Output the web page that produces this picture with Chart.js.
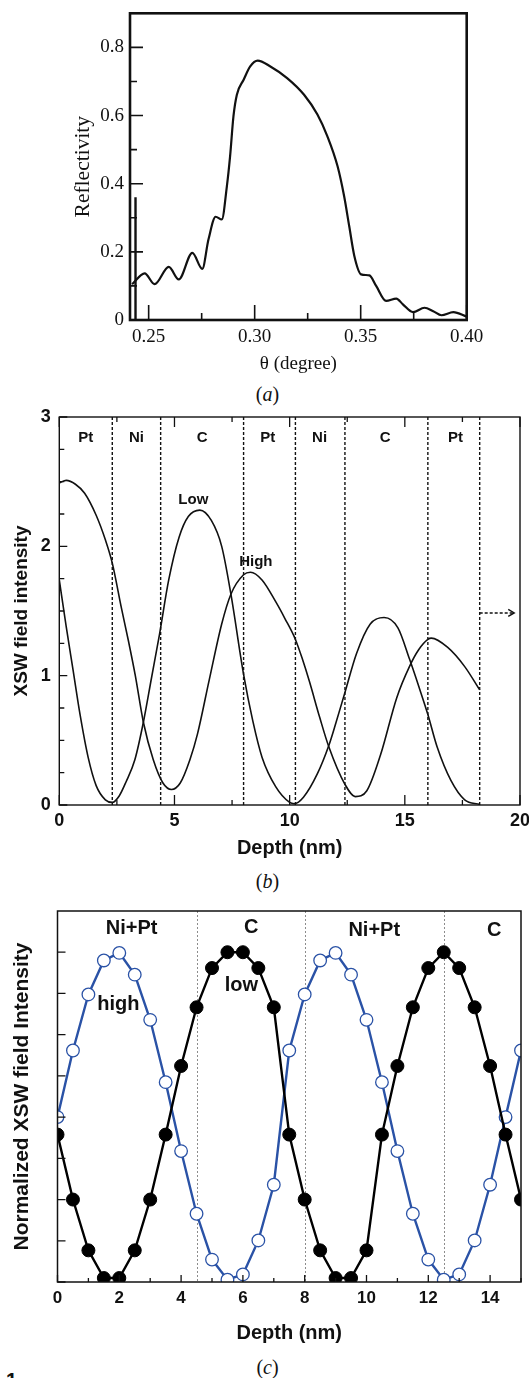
<!DOCTYPE html>
<html>
<head>
<meta charset="utf-8">
<script src="https://cdn.jsdelivr.net/npm/chart.js@4.4.1/dist/chart.umd.min.js"></script>
<style>
  html, body { margin: 0; padding: 0; background: #fff; }
  body { position: relative; width: 529px; height: 1378px; overflow: hidden; }
  canvas { position: absolute; left: 0; }
  .cap { position: absolute; left: 3px; width: 529px; text-align: center;
         font-family: "Liberation Serif", serif; font-size: 20px; line-height: 20px; color: #111; }
  .stray { position: absolute; left: 6px; top: 1369px; font: bold 20px "Liberation Sans", sans-serif; color: #111; }
</style>
</head>
<body>
<canvas id="reflect" width="529" height="380" style="top:0px"></canvas>
<div class="cap" style="top:384px">(<i>a</i>)</div>
<canvas id="xsw" width="529" height="470" style="top:400px"></canvas>
<div class="cap" style="top:871px">(<i>b</i>)</div>
<canvas id="norm" width="529" height="455" style="top:895px"></canvas>
<div class="cap" style="top:1357px">(<i>c</i>)</div>
<div class="stray">1</div>
<script>
// (a) reflectivity curve
const thetaDeg = [0.2422, 0.2481, 0.2528, 0.2595, 0.2642, 0.2706, 0.2753, 0.2782, 0.2816, 0.2845,
  0.2869, 0.2884, 0.2900, 0.2916, 0.2948, 0.2979, 0.3014, 0.3074, 0.3153, 0.3233,
  0.3296, 0.3343, 0.3391, 0.3422, 0.3446, 0.3470, 0.3502, 0.3541, 0.3573, 0.3620,
  0.3668, 0.3699, 0.3747, 0.3801, 0.3842, 0.3881, 0.3937, 0.4000];
const reflectivity = [0.105, 0.137, 0.105, 0.156, 0.119, 0.197, 0.150, 0.236, 0.303, 0.295,
  0.393, 0.480, 0.598, 0.661, 0.705, 0.744, 0.761, 0.744, 0.710, 0.661,
  0.603, 0.539, 0.451, 0.363, 0.275, 0.188, 0.134, 0.131, 0.100, 0.056,
  0.063, 0.046, 0.023, 0.036, 0.026, 0.014, 0.023, 0.010];
const edgeTheta = [0.2438, 0.2438];
const edgeRefl = [0, 0.36];
const thetaTicks = [0.25, 0.275, 0.30, 0.325, 0.35, 0.375, 0.40];
const thetaLabels = ['0.25', '', '0.30', '', '0.35', '', '0.40'];
const reflTicks = [0, 0.1, 0.2, 0.3, 0.4, 0.5, 0.6, 0.7, 0.8];
const reflLabels = ['0', '', '0.2', '', '0.4', '', '0.6', '', '0.8'];

// (b) XSW field intensity vs depth
const depthLow = [0, 0.3, 0.6, 0.9, 1.25, 1.6, 2.0, 2.3, 2.6, 2.9, 3.28, 3.65, 4.0, 4.35, 4.75,
  5.2, 5.6, 6.1, 6.6, 7.05, 7.45, 8.0, 8.4, 8.8, 9.4, 10.0, 10.2, 10.6, 11.2, 11.7,
  12.0, 12.4, 12.9, 13.5, 14.1, 14.7, 15.2, 15.6, 16.0, 16.4, 17.0, 17.6, 18.25];
const fieldLow = [1.74, 1.38, 1.04, 0.70, 0.37, 0.15, 0.04, 0.02, 0.07, 0.18, 0.35, 0.64, 0.98, 1.32, 1.74,
  2.07, 2.23, 2.28, 2.20, 2.00, 1.63, 1.01, 0.65, 0.37, 0.14, 0.02, 0.01, 0.06, 0.24, 0.46,
  0.63, 0.87, 1.17, 1.40, 1.45, 1.37, 1.13, 0.92, 0.70, 0.45, 0.19, 0.04, 0.005];
const depthHigh = [0, 0.3, 0.7, 1.1, 1.6, 2.0, 2.3, 2.7, 3.0, 3.3, 3.65, 4.08, 4.5, 4.87, 5.25,
  5.67, 6.0, 6.5, 7.05, 7.45, 8.0, 8.3, 8.8, 9.4, 9.8, 10.25, 10.55, 10.85, 11.3, 11.7, 12.4,
  12.85, 13.35, 13.95, 14.65, 15.2, 15.6, 16.0, 16.15, 16.85, 17.6, 18.25];
const fieldHigh = [2.49, 2.51, 2.48, 2.41, 2.24, 2.05, 1.87, 1.52, 1.27, 1.00, 0.64, 0.35, 0.17, 0.12, 0.17,
  0.35, 0.55, 0.96, 1.40, 1.63, 1.78, 1.80, 1.74, 1.57, 1.44, 1.28, 1.13, 0.96, 0.68, 0.45, 0.16,
  0.065, 0.11, 0.39, 0.83, 1.07, 1.20, 1.28, 1.29, 1.22, 1.07, 0.89];
const layerEdges = [2.3, 4.4, 8.0, 10.25, 12.4, 16.0, 18.25];
const layerNames = ['Pt', 'Ni', 'C', 'Pt', 'Ni', 'C', 'Pt'];
const layerMids = [1.15, 3.35, 6.2, 9.05, 11.3, 14.15, 17.2];
const depthTicksB = [0, 2.5, 5, 7.5, 10, 12.5, 15, 17.5, 20];
const depthLabelsB = ['0', '', '5', '', '10', '', '15', '', '20'];
const fieldTicks = [0, 0.25, 0.5, 0.75, 1, 1.25, 1.5, 1.75, 2, 2.25, 2.5, 2.75, 3];
const fieldLabels = ['0', '', '', '', '1', '', '', '', '2', '', '', '', '3'];

// (c) normalized XSW field intensity
const depthC = [0, 0.5, 1, 1.5, 2, 2.5, 3, 3.5, 4, 4.5, 5, 5.5, 6, 6.5, 7, 7.5,
  8, 8.5, 9, 9.5, 10, 10.5, 11, 11.5, 12, 12.5, 13, 13.5, 14, 14.5, 15];
const lowC = [0.447, 0.25, 0.096, 0.012, 0.012, 0.096, 0.25, 0.447, 0.655, 0.833, 0.952, 1.0, 1.0, 0.952, 0.833, 0.447,
  0.25, 0.096, 0.012, 0.012, 0.096, 0.447, 0.655, 0.833, 0.952, 1.0, 0.952, 0.833, 0.655, 0.447, 0.25];
const highC = [0.5, 0.702, 0.872, 0.975, 0.998, 0.932, 0.795, 0.606, 0.397, 0.207, 0.068, 0.007, 0.023, 0.126, 0.295, 0.702,
  0.872, 0.975, 0.998, 0.932, 0.795, 0.606, 0.397, 0.207, 0.068, 0.007, 0.023, 0.126, 0.295, 0.5, 0.702];
const zoneEdges = [4.5, 8.0, 12.5];
const zoneNames = ['Ni+Pt', 'C', 'Ni+Pt', 'C'];
const zoneMids = [2.4, 6.27, 10.25, 14.13];
const zoneLevels = [1.071, 1.076, 1.066, 1.066];
const depthTicksC = [0, 1, 2, 3, 4, 5, 6, 7, 8, 9, 10, 11, 12, 13, 14, 15];
const depthLabelsC = ['0', '', '2', '', '4', '', '6', '', '8', '', '10', '', '12', '', '14', ''];
const normTicks = [0, 0.125, 0.25, 0.375, 0.5, 0.625, 0.75, 0.875, 1];

const pts = (xs, ys) => xs.map((x, i) => ({ x: x, y: ys[i] }));
const SERIF = '"Liberation Serif", "Times New Roman", serif';
const SANS = '"Liberation Sans", Arial, sans-serif';

// frame + inward tick marks
function framePlugin(cfg) {
  return {
    id: 'frame',
    afterDatasetsDraw(chart) {
      const { ctx, chartArea: a, scales: { x, y } } = chart;
      ctx.save();
      ctx.strokeStyle = cfg.color;
      ctx.lineWidth = cfg.tickWidth;
      ctx.beginPath();
      x.ticks.forEach(t => {
        const px = x.getPixelForValue(t.value);
        const len = t.label !== '' ? cfg.xMajor : cfg.xMinor;
        ctx.moveTo(px, a.bottom);
        ctx.lineTo(px, a.bottom - len);
        if (cfg.mirrorTop) {
          ctx.moveTo(px, a.top);
          ctx.lineTo(px, a.top + len);
        }
      });
      y.ticks.forEach(t => {
        const py = y.getPixelForValue(t.value);
        const len = t.label !== '' ? cfg.yMajor : cfg.yMinor;
        ctx.moveTo(a.left, py);
        ctx.lineTo(a.left + len, py);
      });
      ctx.stroke();
      ctx.lineWidth = cfg.borderWidth;
      ctx.strokeRect(a.left, a.top, a.right - a.left, a.bottom - a.top);
      ctx.restore();
    }
  };
}

function axis(opts) {
  return {
    type: 'linear',
    min: opts.min,
    max: opts.max,
    afterBuildTicks: s => { s.ticks = opts.ticks.map(v => ({ value: v })); },
    afterFit: s => {
      if (opts.width !== undefined) s.width = opts.width;
      if (opts.height !== undefined) s.height = opts.height;
      s.paddingLeft = 0; s.paddingRight = 0; s.paddingTop = 0; s.paddingBottom = 0;
    },
    grid: { display: false, drawTicks: false },
    border: { display: false },
    ticks: {
      display: opts.labels !== null,
      callback: (v, i) => opts.labels ? opts.labels[i] : '',
      font: opts.tickFont,
      color: '#111',
      padding: opts.tickPad,
      maxRotation: 0,
      autoSkip: false
    },
    title: {
      display: true,
      text: opts.title,
      font: opts.titleFont,
      color: '#111',
      padding: opts.titlePad
    }
  };
}

// ---------- (a) ----------
new Chart(document.getElementById('reflect'), {
  type: 'line',
  data: {
    datasets: [
      { data: pts(thetaDeg, reflectivity), borderColor: '#111', borderWidth: 2.2,
        pointRadius: 0, cubicInterpolationMode: 'monotone' },
      { data: pts(edgeTheta, edgeRefl), borderColor: '#111', borderWidth: 2.4, pointRadius: 0 }
    ]
  },
  options: {
    responsive: false,
    animation: false,
    layout: { padding: { left: 0, top: 13.3, right: 62.3, bottom: 0 } },
    plugins: { legend: { display: false }, tooltip: { enabled: false } },
    scales: {
      x: axis({ min: 0.2412, max: 0.40, ticks: thetaTicks, labels: thetaLabels, height: 60,
        tickFont: { family: SERIF, size: 19 }, tickPad: 5.3, title: 'θ (degree)',
        titleFont: { family: SERIF, size: 19 }, titlePad: { top: 0, bottom: 4.6 } }),
      y: axis({ min: 0, max: 0.9, ticks: reflTicks, labels: reflLabels, width: 130,
        tickFont: { family: SERIF, size: 19 }, tickPad: 6, title: 'Reflectivity',
        titleFont: { family: SERIF, size: 21.5 }, titlePad: { top: 70.1, bottom: 0 } })
    }
  },
  plugins: [framePlugin({ color: '#111', tickWidth: 1.6, borderWidth: 2.6,
    xMajor: 15, xMinor: 7, yMajor: 13, yMinor: 7, mirrorTop: false })]
});

// ---------- (b) ----------
const layersB = {
  id: 'layersB',
  beforeDatasetsDraw(chart) {
    const { ctx, chartArea: a, scales: { x } } = chart;
    ctx.save();
    ctx.strokeStyle = '#111';
    ctx.lineWidth = 1.4;
    ctx.setLineDash([3, 2]);
    ctx.beginPath();
    layerEdges.forEach(d => {
      const px = x.getPixelForValue(d);
      ctx.moveTo(px, a.top);
      ctx.lineTo(px, a.bottom);
    });
    ctx.stroke();
    ctx.restore();
  },
  afterDatasetsDraw(chart) {
    const { ctx, scales: { x, y } } = chart;
    ctx.save();
    ctx.fillStyle = '#111';
    ctx.textAlign = 'center';
    ctx.textBaseline = 'middle';
    ctx.font = 'bold 15px ' + SANS;
    layerNames.forEach((n, i) => ctx.fillText(n, x.getPixelForValue(layerMids[i]), y.getPixelForValue(2.836)));
    ctx.fillText('Low', x.getPixelForValue(5.82), y.getPixelForValue(2.36));
    ctx.fillText('High', x.getPixelForValue(8.53), y.getPixelForValue(1.88));
    // dashed arrow pointing to deeper layers
    const x0 = x.getPixelForValue(18.25), x1 = x.getPixelForValue(19.75), py = y.getPixelForValue(1.485);
    ctx.strokeStyle = '#111';
    ctx.lineWidth = 1.4;
    ctx.setLineDash([3, 2]);
    ctx.beginPath();
    ctx.moveTo(x0, py); ctx.lineTo(x1, py);
    ctx.stroke();
    ctx.setLineDash([]);
    ctx.beginPath();
    ctx.moveTo(x1 - 6, py - 3.5); ctx.lineTo(x1, py); ctx.lineTo(x1 - 6, py + 3.5);
    ctx.stroke();
    ctx.restore();
  }
};

new Chart(document.getElementById('xsw'), {
  type: 'line',
  data: {
    datasets: [
      { label: 'Low', data: pts(depthLow, fieldLow), borderColor: '#111', borderWidth: 1.6,
        pointRadius: 0, cubicInterpolationMode: 'monotone' },
      { label: 'High', data: pts(depthHigh, fieldHigh), borderColor: '#111', borderWidth: 1.6,
        pointRadius: 0, cubicInterpolationMode: 'monotone' }
    ]
  },
  options: {
    responsive: false,
    animation: false,
    layout: { padding: { left: 0, top: 17, right: 9, bottom: 0 } },
    plugins: { legend: { display: false }, tooltip: { enabled: false } },
    scales: {
      x: axis({ min: 0, max: 20, ticks: depthTicksB, labels: depthLabelsB, height: 65,
        tickFont: { family: SANS, size: 18, weight: 'bold' }, tickPad: 5.2, title: 'Depth (nm)',
        titleFont: { family: SANS, size: 20, weight: 'bold' }, titlePad: { top: 0, bottom: 10 } }),
      y: axis({ min: 0, max: 3, ticks: fieldTicks, labels: fieldLabels, width: 59.3,
        tickFont: { family: SANS, size: 18, weight: 'bold' }, tickPad: 8.6, title: 'XSW field intensity',
        titleFont: { family: SANS, size: 19, weight: 'bold' }, titlePad: { top: 10.6, bottom: 0 } })
    }
  },
  plugins: [layersB, framePlugin({ color: '#111', tickWidth: 1.3, borderWidth: 1.4,
    xMajor: 10, xMinor: 5, yMajor: 8, yMinor: 5, mirrorTop: true })]
});

// ---------- (c) ----------
const zonesC = {
  id: 'zonesC',
  beforeDatasetsDraw(chart) {
    const { ctx, chartArea: a, scales: { x } } = chart;
    ctx.save();
    ctx.strokeStyle = '#8c8c8c';
    ctx.lineWidth = 1;
    ctx.setLineDash([2, 2]);
    ctx.beginPath();
    zoneEdges.forEach(d => {
      const px = Math.round(x.getPixelForValue(d)) + 0.5;
      ctx.moveTo(px, a.top);
      ctx.lineTo(px, a.bottom);
    });
    ctx.stroke();
    ctx.restore();
  },
  afterDatasetsDraw(chart) {
    const { ctx, scales: { x, y } } = chart;
    ctx.save();
    ctx.fillStyle = '#111';
    ctx.textAlign = 'center';
    ctx.textBaseline = 'middle';
    ctx.font = 'bold 20px ' + SANS;
    zoneNames.forEach((n, i) => ctx.fillText(n, x.getPixelForValue(zoneMids[i]), y.getPixelForValue(zoneLevels[i])));
    ctx.fillText('high', x.getPixelForValue(1.97), y.getPixelForValue(0.843));
    ctx.fillText('low', x.getPixelForValue(5.95), y.getPixelForValue(0.899));
    ctx.restore();
  }
};

new Chart(document.getElementById('norm'), {
  type: 'line',
  data: {
    datasets: [
      { label: 'low', data: pts(depthC, lowC), borderColor: '#000', borderWidth: 2.4, tension: 0,
        pointRadius: 6.5, pointBackgroundColor: '#000', pointBorderColor: '#000', pointBorderWidth: 1 },
      { label: 'high', data: pts(depthC, highC), borderColor: '#2a52a6', borderWidth: 2.4, tension: 0,
        pointRadius: 6.3, pointBackgroundColor: '#fff', pointBorderColor: '#2a52a6', pointBorderWidth: 1.3 }
    ]
  },
  options: {
    responsive: false,
    animation: false,
    layout: { padding: { left: 0, top: 16, right: 8, bottom: 0 } },
    plugins: { legend: { display: false }, tooltip: { enabled: false } },
    scales: {
      x: axis({ min: 0, max: 15, ticks: depthTicksC, labels: depthLabelsC, height: 68,
        tickFont: { family: SANS, size: 17, weight: 'bold' }, tickPad: 5.8, title: 'Depth (nm)',
        titleFont: { family: SANS, size: 20, weight: 'bold' }, titlePad: { top: 0, bottom: 4.7 } }),
      y: axis({ min: 0, max: 1.125, ticks: normTicks, labels: null, width: 57.5,
        tickFont: { family: SANS, size: 17, weight: 'bold' }, tickPad: 6, title: 'Normalized XSW field Intensity',
        titleFont: { family: SANS, size: 21, weight: 'bold' }, titlePad: { top: 9.4, bottom: 0 } })
    }
  },
  plugins: [zonesC, framePlugin({ color: '#111', tickWidth: 1.3, borderWidth: 1.5,
    xMajor: 7, xMinor: 4, yMajor: 8, yMinor: 8, mirrorTop: false })]
});
</script>
</body>
</html>
